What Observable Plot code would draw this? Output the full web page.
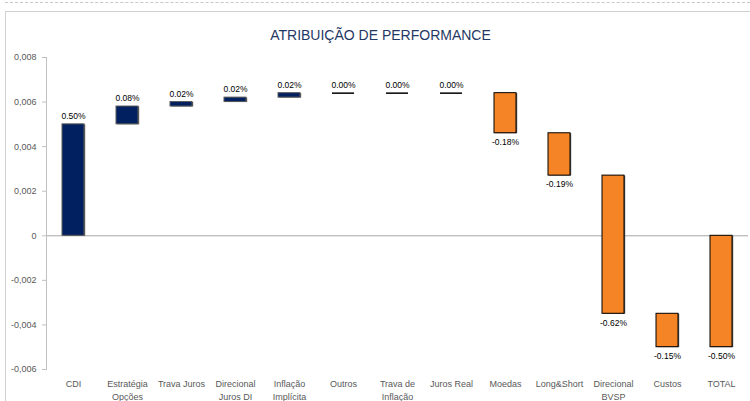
<!DOCTYPE html>
<html>
<head>
<meta charset="utf-8">
<script src="https://cdn.jsdelivr.net/npm/d3@7"></script>
<script src="https://cdn.jsdelivr.net/npm/@observablehq/plot@0.6"></script>
<style>
  html, body { margin: 0; padding: 0; background: #fff; }
  #wrap { position: relative; width: 750px; height: 401px; overflow: hidden; }
  #dots { position: absolute; left: 5px; top: 2px; width: 745px; border-top: 1px dashed #c8c8c8; }
  #box { position: absolute; left: 5px; top: 11px; width: 760px; height: 400px; border-top: 1px solid #d0d0d0; border-left: 1px solid #d0d0d0; }
  #chart { position: absolute; left: 0; top: 0; }
</style>
</head>
<body>
<div id="wrap"><div id="dots"></div><div id="box"></div><div id="chart"></div></div>
<script>
const title = "ATRIBUIÇÃO DE PERFORMANCE";
const categories = ["CDI", "Estratégia\nOpções", "Trava Juros", "Direcional\nJuros DI", "Inflação\nImplícita", "Outros", "Trava de\nInflação", "Juros Real", "Moedas", "Long&Short", "Direcional\nBVSP", "Custos", "TOTAL"];
const deltas = [0.0050, 0.0008, 0.0002, 0.0002, 0.0002, 0.0000, 0.0000, 0.0000, -0.0018, -0.0019, -0.0062, -0.0015, -0.0050];
const isTotal = [false, false, false, false, false, false, false, false, false, false, false, false, true];
const yTicks = [-0.006, -0.004, -0.002, 0, 0.002, 0.004, 0.006, 0.008];

const NAVY = "#002060", ORANGE = "#F58426";
let run = 0;
const data = categories.map((c, i) => {
  const d = deltas[i];
  let y1, y2;
  if (isTotal[i]) { y1 = 0; y2 = d; }
  else { y1 = run; y2 = run + d; run = y2; }
  return {cat: c, d, y1, y2, lo: Math.min(y1, y2), hi: Math.max(y1, y2),
          label: (d * 100).toFixed(2) + "%"};
});
const nonzero = data.filter(r => r.d !== 0);
const zero = data.filter(r => r.d === 0);
const font = "Liberation Sans, Arial, sans-serif";

const chart = Plot.plot({
  width: 750,
  height: 401,
  marginTop: 57,
  marginBottom: 32,
  marginLeft: 46,
  marginRight: 2,
  style: {fontFamily: font, background: "transparent", overflow: "visible"},
  x: {domain: categories, paddingInner: 0.59, paddingOuter: 0.295, label: null},
  y: {domain: [-0.006, 0.008], label: null},
  marks: [
    Plot.ruleY([0], {stroke: "#a6a6a6", strokeWidth: 1}),
    Plot.frame({anchor: "left", stroke: "#c0c0c0"}),
    Plot.axisY({ticks: yTicks, tickSize: 4, tickPadding: 6, stroke: "#c0c0c0",
      tickFormat: d => d === 0 ? "0" : d.toFixed(3).replace(".", ","),
      fill: "#595959", fontSize: 9, label: null}),
    Plot.axisX({tickSize: 0, tickPadding: 9, fill: "#595959", fontSize: 9, label: null, lineHeight: 1.4}),
    Plot.barY(nonzero, {x: "cat", y1: "y1", y2: "y2", fill: "#555", dx: 1.2, dy: 0.4}),
    Plot.barY(nonzero, {x: "cat", y1: "y1", y2: "y2",
      fill: r => r.d > 0 ? NAVY : ORANGE,
      stroke: r => r.d > 0 ? "#5a5a5a" : "#000", strokeWidth: 1}),
    Plot.tickY(zero, {x: "cat", y: "y2", stroke: "#000", strokeWidth: 1.5}),
    Plot.text(data.filter(r => r.d >= 0), {x: "cat", y: "hi", text: "label", dy: -8, fontSize: 8.5, fill: "#000"}),
    Plot.text(data.filter(r => r.d < 0), {x: "cat", y: "lo", text: "label", dy: 9, fontSize: 8.5, fill: "#000"}),
    Plot.text([title], {frameAnchor: "top-left", dx: 334, dy: -27, textAnchor: "middle",
      fontSize: 14, fill: "#1F3864"})
  ]
});
document.getElementById("chart").appendChild(chart);
</script>
</body>
</html>
